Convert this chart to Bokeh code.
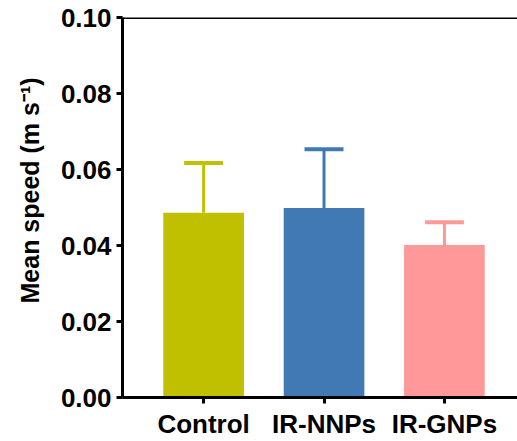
from bokeh.plotting import figure
from bokeh.models import (ColumnDataSource, Range1d, FixedTicker, PrintfTickFormatter,
                          Whisker, TeeHead, Span, Title)
from bokeh.embed import file_html
from bokeh.resources import INLINE

categories = ["Control", "IR-NNPs", "IR-GNPs"]
means = [0.0486, 0.0499, 0.0401]
errors_upper = [0.0131, 0.0154, 0.0060]
colors = ["#C0C000", "#4079B3", "#FF9898"]
y_ticks = [0.00, 0.02, 0.04, 0.06, 0.08, 0.10]
y_title = "Mean speed (m s\u207b\u00b9)"

xs = [i + 1 for i in range(len(categories))]

p = figure(width=517, height=441, output_backend="svg", toolbar_location=None,
           x_range=Range1d(0.326, 3.607), y_range=Range1d(0, 0.10),
           min_border_left=120, min_border_right=0, min_border_top=17,
           min_border_bottom=44)
p.outline_line_color = None
p.xgrid.visible = False
p.ygrid.visible = False
p.background_fill_color = "white"
p.border_fill_color = "white"

src = ColumnDataSource(dict(x=xs, top=means, color=colors))
p.vbar(x="x", top="top", width=0.67, fill_color="color", line_color=None, source=src)

for i in range(len(xs)):
    s = ColumnDataSource(dict(base=[xs[i]], lower=[means[i]], upper=[means[i] + errors_upper[i]]))
    w = Whisker(source=s, base="base", lower="lower", upper="upper",
                line_color=colors[i], line_width=3,
                upper_head=TeeHead(size=39, line_color=colors[i], line_width=4),
                lower_head=None)
    p.add_layout(w)

p.add_layout(Span(location=0.10, dimension="width", line_color="black", line_width=3))

font = "Liberation Sans"
for ax in (p.xaxis[0], p.yaxis[0]):
    ax.axis_line_width = 3
    ax.major_tick_line_width = 3
    ax.major_tick_out = 6
    ax.major_tick_in = 0
    ax.minor_tick_line_color = None
    ax.major_label_text_font = font
    ax.major_label_text_font_style = "bold"
    ax.major_label_text_color = "black"

p.xaxis.ticker = FixedTicker(ticks=xs)
p.xaxis.major_label_overrides = {x: c for x, c in zip(xs, categories)}
p.xaxis.major_label_standoff = 5
p.xaxis.major_label_text_font_size = "26px"

p.yaxis.ticker = FixedTicker(ticks=y_ticks)
p.yaxis.formatter = PrintfTickFormatter(format="%.2f")
p.yaxis.major_label_standoff = 5
p.yaxis.major_label_text_font_size = "26px"

ytitle = Title(text=y_title, align="left", offset=94, standoff=27,
               text_font=font, text_font_style="bold", text_font_size="25px",
               text_color="black")
p.add_layout(ytitle, "left")

open("out.html", "w").write(file_html(p, INLINE))
